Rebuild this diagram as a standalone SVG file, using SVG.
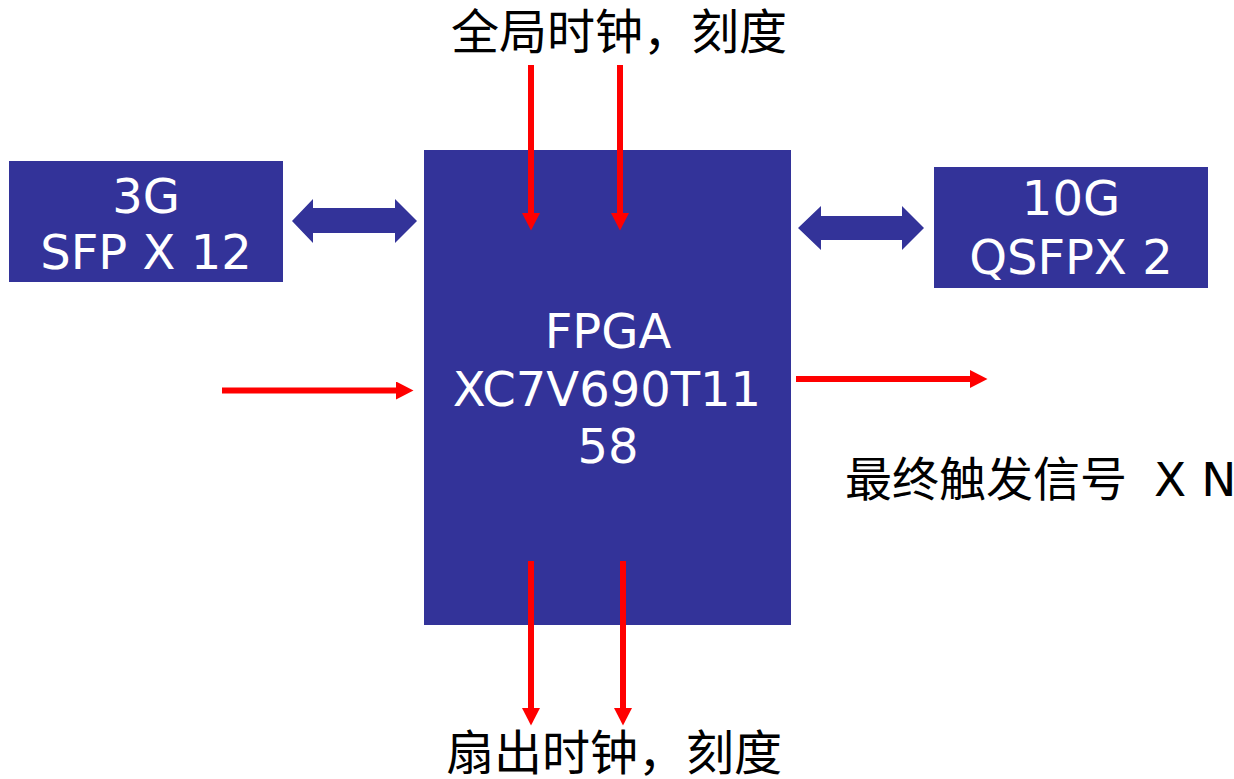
<svg xmlns="http://www.w3.org/2000/svg" width="1234" height="779" viewBox="0 0 1234 779">
<defs>
<style>
.box{fill:#333399;}
.lbl{font-family:"DejaVu Sans","Noto Sans CJK SC",sans-serif;font-size:48px;fill:#ffffff;text-anchor:middle;}
.cjk{font-family:"DejaVu Sans","Noto Sans CJK SC",sans-serif;font-size:48px;fill:#000000;}
.red{stroke:#ff0000;stroke-width:6;fill:none;marker-end:url(#rh);}
.dbl{fill:#333399;}
</style>
<marker id="rh" markerUnits="userSpaceOnUse" markerWidth="18" markerHeight="18" refX="0" refY="9" orient="auto">
<path d="M0,0 L17.5,9 L0,18 z" fill="#ff0000"/>
</marker>
</defs>
<rect width="1234" height="779" fill="#ffffff"/>
<g id="sfp">
<rect class="box" x="9" y="161" width="274" height="121"/>
<text class="lbl" x="146" y="213">3G</text>
<text class="lbl" x="146" y="269">SFP X 12</text>
</g>
<g id="qsfp">
<rect class="box" x="934" y="167" width="274" height="121"/>
<text class="lbl" x="1071" y="215">10G</text>
<text class="lbl" x="1071" y="274">QSFPX 2</text>
</g>
<g id="fpga">
<rect class="box" x="424" y="150" width="367" height="475"/>
<text class="lbl" x="608" y="348">FPGA</text>
<text class="lbl" x="607" y="406">XC7V690T11</text>
<text class="lbl" x="608" y="463">58</text>
</g>
<g id="connectors">
<polygon class="dbl" points="292,221 313,199 313,208 395,208 395,199 417,221 395,243 395,233 313,233 313,243"/>
<polygon class="dbl" points="798,228 821,206 821,216 902,216 902,206 924,228 902,250 902,240 821,240 821,250"/>
<line class="red" x1="531" y1="65" x2="531" y2="213"/>
<line class="red" x1="620" y1="65" x2="620" y2="213"/>
<line class="red" x1="531" y1="561" x2="531" y2="708"/>
<line class="red" x1="623" y1="561" x2="623" y2="708"/>
<line class="red" x1="222" y1="390.5" x2="396" y2="390.5"/>
<line class="red" x1="796" y1="379" x2="970" y2="379"/>
</g>
<g id="label-top">
<text class="cjk" x="619" y="49" text-anchor="middle">全局时钟，刻度</text>
</g>
<g id="label-bottom">
<text class="cjk" x="614" y="770" text-anchor="middle">扇出时钟，刻度</text>
</g>
<g id="label-trigger">
<text class="cjk" x="845" y="496" style="font-size:47px">最终触发信号 <tspan x="1154">X N</tspan></text>
</g>
</svg>
